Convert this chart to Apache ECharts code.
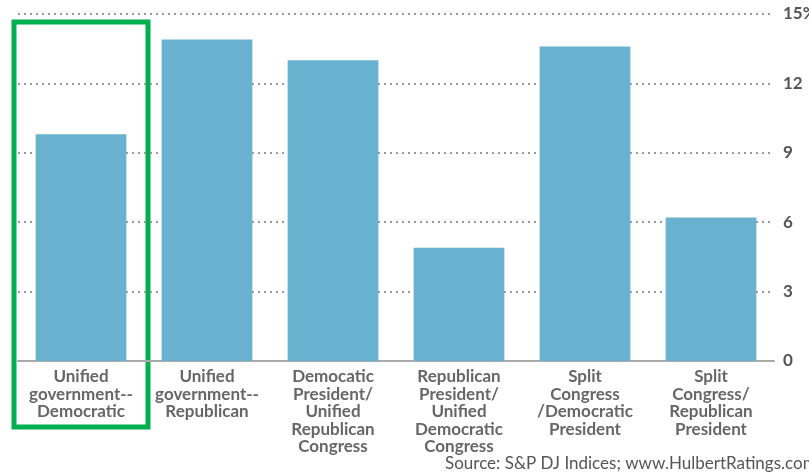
<!DOCTYPE html>
<html><head><meta charset="utf-8">
<script src="https://cdn.jsdelivr.net/npm/echarts@6/dist/echarts.min.js"></script>
<style>html,body{margin:0;padding:0;background:#fff}#c{width:809px;height:472px}</style>
</head><body><div id="c"></div>
<script>
const categories = [
  "Unified\ngovernment--\nDemocratic",
  "Unified\ngovernment--\nRepublican",
  "Democatic\nPresident/\nUnified\nRepublican\nCongress",
  "Republican\nPresident/\nUnified\nDemocratic\nCongress",
  "Split\nCongress\n/Democratic\nPresident",
  "Split\nCongress/\nRepublican\nPresident"
];
const returns = [9.8, 13.9, 13.0, 4.9, 13.6, 6.2];
const yTicks = {min: 0, max: 15, interval: 3};
const sourceText = "Source: S&P DJ Indices; www.HulbertRatings.com";

const chart = echarts.init(document.getElementById('c'));
chart.setOption({
  animation: false,
  backgroundColor: '#fff',
  grid: {left: 18, right: 35, top: 14, bottom: 111, outerBoundsMode: 'none', containLabel: false},
  xAxis: {
    type: 'category',
    data: categories,
    axisLine: {lineStyle: {color: '#aaa', width: 2}},
    axisTick: {show: false},
    axisLabel: {interval: 0, fontFamily: 'Lato', fontWeight: 'bold', fontSize: 17, lineHeight: 17.5, color: '#666', margin: 7}
  },
  yAxis: {
    type: 'value', position: 'right',
    min: yTicks.min, max: yTicks.max, interval: yTicks.interval,
    axisLine: {show: false}, axisTick: {show: false},
    axisLabel: {fontFamily: 'Lato', fontWeight: 'bold', fontSize: 17, color: '#555', margin: 9,
      formatter: v => v === yTicks.max ? v + '%' : String(v)},
    splitLine: {lineStyle: {color: '#999', type: [2, 4], width: 2}}
  },
  series: [{
    type: 'bar', data: returns, barCategoryGap: '28%',
    itemStyle: {color: '#68b1cf'}
  }],
  graphic: [
    {type: 'rect', shape: {x: 14, y: 22, width: 134, height: 405},
     style: {fill: 'none', stroke: '#00b050', lineWidth: 5}},
    {type: 'text', left: 445, top: 455,
     style: {text: sourceText, fontFamily: 'Lato', fontSize: 17, fill: '#555'}}
  ]
});
</script></body></html>
